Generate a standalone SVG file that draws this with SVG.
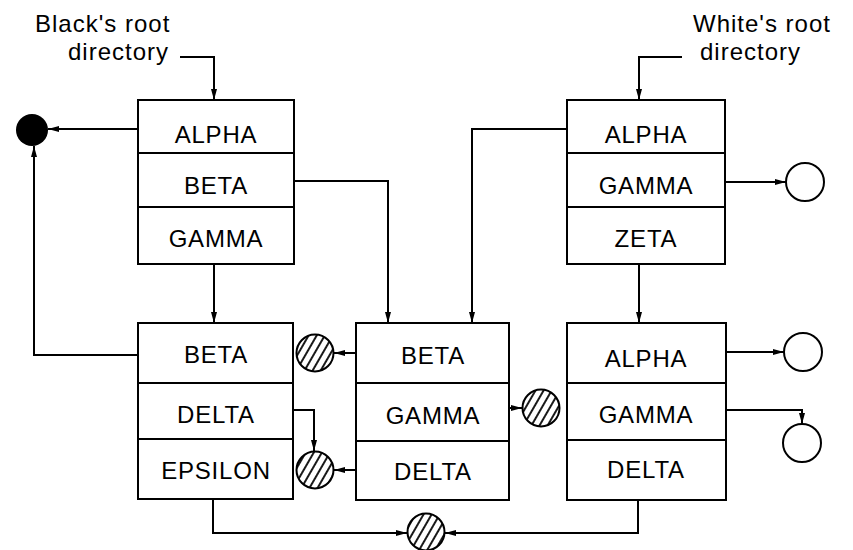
<svg xmlns="http://www.w3.org/2000/svg" width="853" height="550" viewBox="0 0 853 550">
<defs>
<style>
.box{fill:#fff;stroke:#000;stroke-width:2}
.div{stroke:#000;stroke-width:2}
.t{font-family:"Liberation Sans",Arial,sans-serif;font-size:24px;letter-spacing:0.8px;text-anchor:middle;fill:#000}
.lbl{font-family:"Liberation Sans",Arial,sans-serif;font-size:24px;letter-spacing:1px;fill:#000}
.c{fill:none;stroke:#000;stroke-width:2}
.ptr{fill:#fff;stroke:#000;stroke-width:2}
.hat{fill:url(#hatch);stroke:#000;stroke-width:2}
</style>
<marker id="ah" markerWidth="12" markerHeight="8" refX="11" refY="4" orient="auto" markerUnits="userSpaceOnUse">
<path d="M0,1 L11,4 L0,7 Z" fill="#000"/>
</marker>
<pattern id="hatch" patternUnits="userSpaceOnUse" width="7" height="7" patternTransform="rotate(30)">
<rect width="7" height="7" fill="#fff"/>
<line x1="1" y1="0" x2="1" y2="7" stroke="#000" stroke-width="1.8"/>
</pattern>
</defs>
<rect width="853" height="550" fill="#fff"/>

<g id="label-black">
<text class="lbl" x="35" y="32">Black's root</text>
<text class="lbl" x="68" y="60">directory</text>
</g>
<g id="label-white">
<text class="lbl" x="693" y="32">White's root</text>
<text class="lbl" x="700" y="60">directory</text>
</g>

<g id="black-root">
<rect class="box" x="138" y="100" width="156" height="164"/>
<line class="div" x1="138" y1="153" x2="294" y2="153"/>
<line class="div" x1="138" y1="207" x2="294" y2="207"/>
<text class="t" x="216" y="143">ALPHA</text>
<text class="t" x="216" y="194">BETA</text>
<text class="t" x="216" y="247">GAMMA</text>
</g>

<g id="white-root">
<rect class="box" x="567" y="100" width="158" height="164"/>
<line class="div" x1="567" y1="153" x2="725" y2="153"/>
<line class="div" x1="567" y1="207" x2="725" y2="207"/>
<text class="t" x="646" y="143">ALPHA</text>
<text class="t" x="646" y="194">GAMMA</text>
<text class="t" x="646" y="247">ZETA</text>
</g>

<g id="black-sub">
<rect class="box" x="138" y="323" width="155" height="176"/>
<line class="div" x1="138" y1="383" x2="293" y2="383"/>
<line class="div" x1="138" y1="439" x2="293" y2="439"/>
<text class="t" x="216" y="363">BETA</text>
<text class="t" x="216" y="423">DELTA</text>
<text class="t" x="216" y="479">EPSILON</text>
</g>

<g id="shared">
<rect class="box" x="356" y="323" width="153" height="177"/>
<line class="div" x1="356" y1="383" x2="509" y2="383"/>
<line class="div" x1="356" y1="441" x2="509" y2="441"/>
<text class="t" x="433" y="364">BETA</text>
<text class="t" x="433" y="424">GAMMA</text>
<text class="t" x="433" y="480">DELTA</text>
</g>

<g id="white-sub">
<rect class="box" x="567" y="323" width="159" height="177"/>
<line class="div" x1="567" y1="383" x2="726" y2="383"/>
<line class="div" x1="567" y1="440" x2="726" y2="440"/>
<text class="t" x="646" y="367">ALPHA</text>
<text class="t" x="646" y="423">GAMMA</text>
<text class="t" x="646" y="478">DELTA</text>
</g>

<g id="black-file"><circle cx="32" cy="130" r="16" fill="#000"/></g>
<g id="white-file-1"><circle class="ptr" cx="805" cy="182" r="19"/></g>
<g id="white-file-2"><circle class="ptr" cx="803" cy="352" r="19"/></g>
<g id="white-file-3"><circle class="ptr" cx="802" cy="443" r="19"/></g>
<g id="shared-file-1"><circle class="hat" cx="315" cy="353" r="18.5"/></g>
<g id="shared-file-2"><circle class="hat" cx="315" cy="470" r="18.5"/></g>
<g id="shared-file-3"><circle class="hat" cx="541" cy="408" r="18.5"/></g>
<g id="shared-file-4"><circle class="hat" cx="426" cy="532" r="18.5"/></g>

<g id="connectors">
<path class="c" d="M180,57 H214 V100" marker-end="url(#ah)"/>
<path class="c" d="M682,57 H639 V100" marker-end="url(#ah)"/>
<path class="c" d="M138,129 H48" marker-end="url(#ah)"/>
<path class="c" d="M138,355 H34 V146" marker-end="url(#ah)"/>
<path class="c" d="M294,181 H388 V323" marker-end="url(#ah)"/>
<path class="c" d="M567,129 H472 V323" marker-end="url(#ah)"/>
<path class="c" d="M214,264 V323" marker-end="url(#ah)"/>
<path class="c" d="M639,264 V323" marker-end="url(#ah)"/>
<path class="c" d="M725,182 H786" marker-end="url(#ah)"/>
<path class="c" d="M726,352 H784" marker-end="url(#ah)"/>
<path class="c" d="M726,410 H802 V424" marker-end="url(#ah)"/>
<path class="c" d="M356,353 H334" marker-end="url(#ah)"/>
<path class="c" d="M356,470 H334" marker-end="url(#ah)"/>
<path class="c" d="M293,410 H314 V451" marker-end="url(#ah)"/>
<path class="c" d="M509,408 H522" marker-end="url(#ah)"/>
<path class="c" d="M213,499 V533 H407" marker-end="url(#ah)"/>
<path class="c" d="M638,500 V533 H445" marker-end="url(#ah)"/>
</g>
</svg>
